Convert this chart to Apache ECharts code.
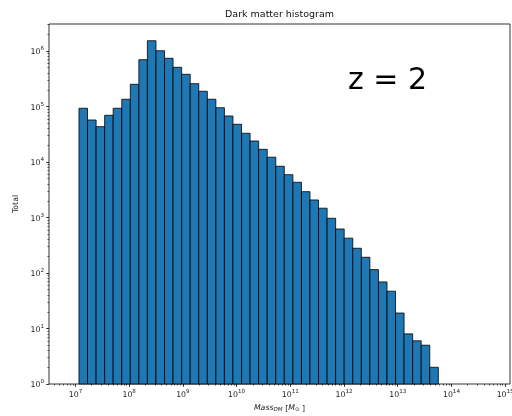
<!DOCTYPE html>
<html><head><meta charset="utf-8">
<script src="https://cdn.jsdelivr.net/npm/echarts@6/dist/echarts.min.js"></script>
<style>html,body{margin:0;padding:0;background:#fff}#c{width:512px;height:416px}</style>
</head><body><div id="c"></div>
<script>
// Bin edges of the histogram, as log10(Mass_DM / M_sun)
const binEdgesLog10 = [7.065, 7.224, 7.384, 7.543, 7.702, 7.862, 8.021, 8.180, 8.339, 8.499,
  8.658, 8.817, 8.977, 9.136, 9.295, 9.455, 9.614, 9.773, 9.932, 10.092,
  10.251, 10.410, 10.570, 10.729, 10.888, 11.048, 11.207, 11.366, 11.525, 11.685,
  11.844, 12.003, 12.163, 12.322, 12.481, 12.641, 12.800, 12.959, 13.118, 13.278,
  13.437, 13.596, 13.756];
// Counts per bin (Total)
const counts = [92900, 57100, 43300, 69400, 92900, 135000, 251000, 697000, 1530000, 1010000,
  738000, 508000, 380000, 258000, 188000, 135000, 95100, 67400, 47800, 32900,
  23900, 16900, 12200, 8370, 5900, 4310, 2920, 2070, 1470, 968,
  621, 424, 279, 192, 115, 69, 47, 19, 8, 6,
  5, 2];
// Major tick exponents
const xTickExps = [7, 8, 9, 10, 11, 12, 13, 14, 15];
const yTickExps = [0, 1, 2, 3, 4, 5, 6];
const minorMantissas = [2, 3, 4, 5, 6, 7, 8, 9];
const xDecades = [6, 7, 8, 9, 10, 11, 12, 13, 14, 15];
const yDecades = [0, 1, 2, 3, 4, 5, 6];

const xMin = 6.507, xMax = 15.09, yMin = 0, yMax = 6.486;

function minorTicks(decades, lo, hi) {
  const out = [];
  decades.forEach(d => minorMantissas.forEach(m => {
    const v = d + Math.log10(m);
    if (v > lo && v < hi) out.push(v);
  }));
  return out;
}
const xMinor = minorTicks(xDecades, xMin, xMax);
const yMinor = minorTicks(yDecades, yMin, yMax);

const bars = counts.map((c, i) => [binEdgesLog10[i], binEdgesLog10[i + 1], Math.log10(c)]);

const FONT = 'DejaVu Sans';
const powRich = {
  b: { fontSize: 7.8, lineHeight: 10, verticalAlign: 'bottom', color: '#222', fontFamily: FONT },
  s: { fontSize: 5.6, lineHeight: 5, verticalAlign: 'top', color: '#222', fontFamily: FONT }
};
const powFmt = v => '{b|10}{s|' + Math.round(v) + '}';

const chart = echarts.init(document.getElementById('c'), null, { renderer: 'canvas' });
chart.setOption({
  animation: false,
  backgroundColor: '#fff',
  title: {
    text: 'Dark matter histogram',
    left: 279.5, top: 10, padding: 0, textAlign: 'center',
    textStyle: { fontSize: 9.5, fontWeight: 'normal', color: '#111', fontFamily: FONT }
  },
  grid: {
    left: 49, right: 2, top: 24, bottom: 32,
    show: true, borderColor: '#000', borderWidth: 0.8,
    containLabel: false, outerBoundsMode: 'none'
  },
  xAxis: [{
    type: 'value', min: xMin, max: xMax, position: 'bottom',
    axisLine: { show: false },
    splitLine: { show: false },
    axisTick: { show: true, customValues: xTickExps, length: 2.8, lineStyle: { color: '#000', width: 0.8 } },
    axisLabel: { show: true, customValues: xTickExps, margin: 5, formatter: powFmt, rich: powRich },
    name: '{it|Mass}{sub|DM} [{it|M}{sub|\u2299} ]',
    nameLocation: 'middle', nameGap: 20,
    nameTextStyle: {
      color: '#222', fontSize: 7.8, fontFamily: FONT,
      rich: {
        it: { fontStyle: 'italic', fontSize: 7.8, lineHeight: 9, verticalAlign: 'top', color: '#222', fontFamily: FONT },
        sub: { fontStyle: 'italic', fontSize: 5.6, lineHeight: 5, verticalAlign: 'bottom', color: '#222', fontFamily: FONT }
      }
    }
  }, {
    type: 'value', min: xMin, max: xMax, position: 'bottom', gridIndex: 0,
    axisLine: { show: false }, splitLine: { show: false }, axisLabel: { show: false },
    axisTick: { show: true, customValues: xMinor, length: 1.6, lineStyle: { color: '#000', width: 0.6 } }
  }],
  yAxis: [{
    type: 'value', min: yMin, max: yMax, position: 'left',
    axisLine: { show: false },
    splitLine: { show: false },
    axisTick: { show: true, customValues: yTickExps, length: 2.8, lineStyle: { color: '#000', width: 0.8 } },
    axisLabel: { show: true, customValues: yTickExps, margin: 5, formatter: powFmt, rich: powRich },
    name: 'Total', nameLocation: 'middle', nameGap: 25, nameRotate: 90,
    nameTextStyle: { color: '#222', fontSize: 7.8, fontFamily: FONT }
  }, {
    type: 'value', min: yMin, max: yMax, position: 'left', gridIndex: 0,
    axisLine: { show: false }, splitLine: { show: false }, axisLabel: { show: false },
    axisTick: { show: true, customValues: yMinor, length: 1.6, lineStyle: { color: '#000', width: 0.6 } }
  }],
  graphic: [{
    type: 'text', x: 348, y: 81,
    style: { text: 'z = 2', fontSize: 30, fontFamily: FONT, fill: '#000', align: 'left', verticalAlign: 'middle' }
  }],
  series: [{
    type: 'custom', name: 'Total', xAxisIndex: 0, yAxisIndex: 0,
    encode: { x: [0, 1], y: 2 },
    data: bars,
    renderItem: function (params, api) {
      const p0 = api.coord([api.value(0), 0]);
      const p1 = api.coord([api.value(1), api.value(2)]);
      return {
        type: 'rect',
        shape: { x: p0[0], y: p1[1], width: p1[0] - p0[0], height: p0[1] - p1[1] },
        style: { fill: '#1f77b4', stroke: '#000', lineWidth: 0.8 }
      };
    }
  }]
});
</script></body></html>
